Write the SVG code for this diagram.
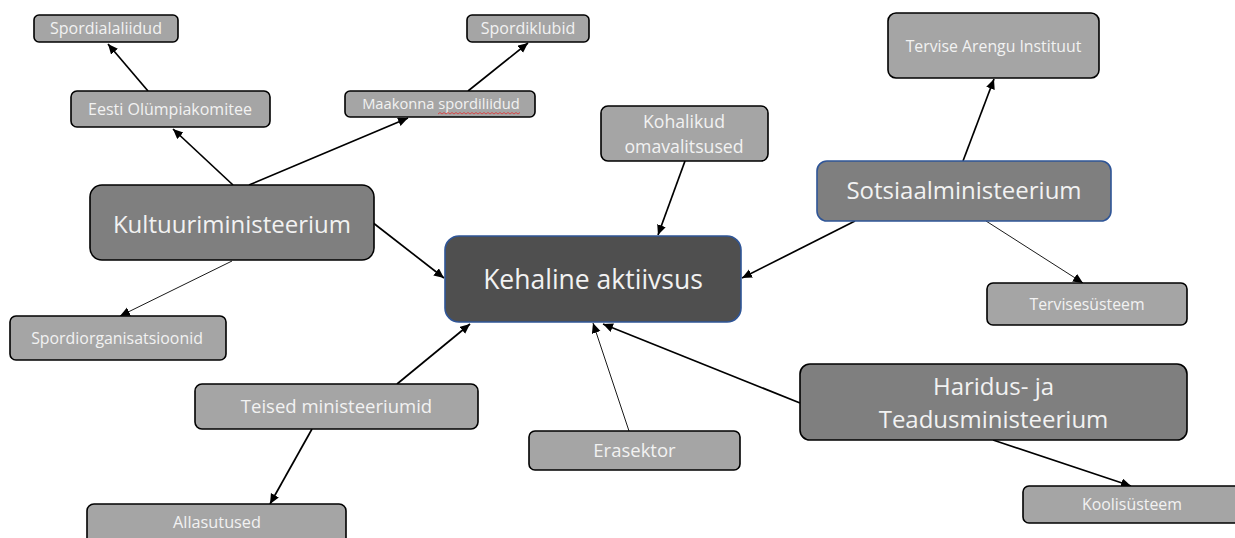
<svg xmlns="http://www.w3.org/2000/svg" width="1235" height="538" viewBox="0 0 1235 538">
<style>
.sm rect{fill:#a5a5a5;stroke:#000;stroke-width:1.6}
.md rect{fill:#7f7f7f;stroke:#000;stroke-width:1.6}
.mdb rect{fill:#7f7f7f;stroke:#2f5597;stroke-width:1.6}
.main rect{fill:#4f4f4f;stroke:#2f5597;stroke-width:1.6}
text{font-family:"Open Sans","Liberation Sans",sans-serif;fill:#f2f2f2;text-anchor:middle}
.c line{stroke:#000;stroke-width:1.7;marker-end:url(#ah)}
.c line.t{stroke-width:0.9}
</style>
<defs>
<marker id="ah" markerUnits="userSpaceOnUse" markerWidth="11" markerHeight="10" refX="10" refY="4.5" orient="auto">
<path d="M0,0 L10,4.5 L0,9 z" fill="#000"/>
</marker>
</defs>
<rect width="1235" height="538" fill="#fff"/>
<g class="c" id="connectors">
<line x1="148" y1="91" x2="108" y2="44"/>
<line x1="233" y1="185" x2="173" y2="129"/>
<line x1="249" y1="185" x2="408" y2="118"/>
<line x1="468" y1="91" x2="528" y2="43"/>
<line x1="372" y1="222" x2="444" y2="278"/>
<line class="t" x1="232" y1="261" x2="120" y2="316"/>
<line x1="397" y1="384" x2="470" y2="324"/>
<line x1="312" y1="429" x2="270" y2="504"/>
<line class="t" x1="629" y1="431" x2="593" y2="323"/>
<line x1="800" y1="403" x2="603" y2="324"/>
<line x1="993" y1="440" x2="1131" y2="486"/>
<line class="t" x1="986" y1="221" x2="1083" y2="283"/>
<line x1="855" y1="221" x2="742" y2="278"/>
<line x1="963" y1="161" x2="994" y2="79"/>
<line x1="685" y1="161" x2="658" y2="235"/>
</g>
<g id="spordialaliidud" class="sm"><rect x="34" y="15" width="144" height="27" rx="5"/><text x="106" y="34" font-size="16">Spordialaliidud</text></g>
<g id="spordiklubid" class="sm"><rect x="467" y="15" width="122" height="27" rx="5"/><text x="528" y="34" font-size="16">Spordiklubid</text></g>
<g id="eesti" class="sm"><rect x="71" y="91" width="199" height="36" rx="6"/><text x="170" y="115" font-size="16">Eesti Olümpiakomitee</text></g>
<g id="maakonna" class="sm"><rect x="345" y="91" width="190" height="26" rx="5"/><text x="441" y="109" font-size="14.7">Maakonna spordiliidud</text><path d="M438,114 l2,-1.5 l2,1.5 l2,-1.5 l2,1.5 l2,-1.5 l2,1.5 l2,-1.5 l2,1.5 l2,-1.5 l2,1.5 l2,-1.5 l2,1.5 l2,-1.5 l2,1.5 l2,-1.5 l2,1.5 l2,-1.5 l2,1.5 l2,-1.5 l2,1.5 l2,-1.5 l2,1.5 l2,-1.5 l2,1.5 l2,-1.5 l2,1.5 l2,-1.5 l2,1.5 l2,-1.5 l2,1.5 l2,-1.5 l2,1.5 l2,-1.5 l2,1.5 l2,-1.5 l2,1.5 l2,-1.5 l2,1.5 l2,-1.5 l2,1.5 l2,-1.5" fill="none" stroke="#e03030" stroke-width="0.8"/></g>
<g id="kultuuriministeerium" class="md"><rect x="90" y="185" width="284" height="75" rx="12"/><text x="232" y="233" font-size="24">Kultuuriministeerium</text></g>
<g id="spordiorganisatsioonid" class="sm"><rect x="10" y="316" width="216" height="44" rx="6"/><text x="117" y="344" font-size="15.9">Spordiorganisatsioonid</text></g>
<g id="kohalikud" class="sm"><rect x="601" y="106" width="167" height="55" rx="7"/><text x="684" y="128" font-size="17.7">Kohalikud</text><text x="684" y="153" font-size="17.7">omavalitsused</text></g>
<g id="kehaline" class="main"><rect x="445" y="236" width="296" height="86" rx="14"/><text x="593" y="289" font-size="26.5">Kehaline aktiivsus</text></g>
<g id="tervise-arengu" class="sm"><rect x="888" y="13" width="211" height="65" rx="8"/><text x="993.5" y="52" font-size="15.8">Tervise Arengu Instituut</text></g>
<g id="sotsiaalministeerium" class="mdb"><rect x="817" y="161" width="294" height="60" rx="10"/><text x="964" y="199" font-size="24">Sotsiaalministeerium</text></g>
<g id="tervisesysteem" class="sm"><rect x="987" y="283" width="200" height="42" rx="6"/><text x="1087" y="310" font-size="15.8">Tervisesüsteem</text></g>
<g id="haridus" class="md"><rect x="800" y="364" width="387" height="76" rx="10"/><text x="993.5" y="395" font-size="24">Haridus- ja</text><text x="993.5" y="428" font-size="24">Teadusministeerium</text></g>
<g id="koolisysteem" class="sm"><rect x="1023" y="486" width="218" height="37" rx="6"/><text x="1132" y="510" font-size="15.9">Koolisüsteem</text></g>
<g id="erasektor" class="sm"><rect x="529" y="431" width="211" height="39" rx="6"/><text x="634.5" y="457" font-size="18.5">Erasektor</text></g>
<g id="teised" class="sm"><rect x="195" y="384" width="283" height="45" rx="7"/><text x="336.5" y="413" font-size="18.5">Teised ministeeriumid</text></g>
<g id="allasutused" class="sm"><rect x="87" y="504" width="259" height="45" rx="7"/><text x="217" y="528" font-size="16.3">Allasutused</text></g>
</svg>
